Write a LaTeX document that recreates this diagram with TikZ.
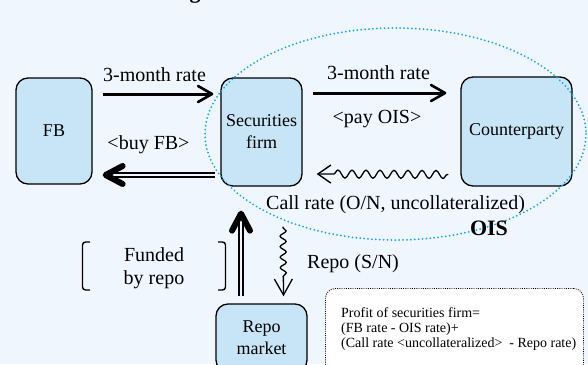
\documentclass[tikz,border=0pt]{standalone}
\usepackage{fontspec}
\setmainfont{Liberation Serif}
\usetikzlibrary{arrows.meta,decorations.pathmorphing,calc}
\definecolor{bgc}{HTML}{EFF6FD}
\definecolor{boxc}{HTML}{C8E5F8}
\definecolor{oisc}{HTML}{1AA3E6}
\tikzset{
  box/.style={draw=black, line width=1.3pt, fill=boxc, rounded corners=12pt, align=center, inner sep=0pt, font=\fontsize{18}{22}\selectfont},
  lbl/.style={font=\fontsize{20}{23}\selectfont, inner sep=0pt, anchor=base},
  thickarr/.style={line width=3pt, -{Straight Barb[length=14pt,width=16pt,line width=2.6pt,round]}},
  dbl/.style={line width=2pt, double=bgc, double distance=2.2pt},
  wavy/.style={line width=1.3pt, decorate, decoration={snake, amplitude=4pt, segment length=14pt, pre length=1pt, post length=15pt}},
  wavyv/.style={line width=1.3pt, decorate, decoration={snake, amplitude=3pt, segment length=10.5pt, pre length=1pt, post length=16pt}},
  brk/.style={line width=1.4pt, rounded corners=3pt},
  profit/.style={draw=black, line width=0.9pt, dash pattern=on 0.9pt off 1.3pt, fill=white, rounded corners=10pt, inner sep=0pt},
  oisline/.style={draw=oisc, line width=2pt, line cap=round, dash pattern=on 0pt off 3.9pt},
  chev/.pic={\draw[line width=6pt,line cap=round,line join=round] (-17,-9) -- (0,0) -- (-17,9);}
}
\begin{document}
\begin{tikzpicture}[x=1pt,y=-1pt]
\useasboundingbox (0,0) rectangle (588,364);
\clip (0,0) rectangle (588,364);
\fill[bgc] (0,0) rectangle (588,364);

% cut-off title fragment
\node[font=\bfseries\fontsize{22}{26}\selectfont, anchor=base, inner sep=0pt] (title) at (195,-1.5) {g};

% boxes
\node[box, minimum width=76pt, minimum height=106pt] (fb) at (54,131) {FB};
\node[box, minimum width=81pt, minimum height=108pt] (sf) at (261.5,132) {Securities\\firm};
\node[box, minimum width=111pt, minimum height=109pt] (cp) at (516.5,131.5) {Counterparty};
\node[box, minimum width=91pt, minimum height=68pt] (rm) at (261.5,338) {Repo\\market};

% profit box
\node[profit, minimum width=258pt, minimum height=100pt, anchor=north west] (pb) at (325,288) {};
\node[align=left, inner sep=0pt, anchor=north west, font=\fontsize{14}{15}\selectfont] (pbt) at ($(pb.north west)+(16,19.5)$)
  {Profit of securities firm=\\(FB rate - OIS rate)+\\(Call rate <uncollateralized>\ \ - Repo rate)};

% OIS ellipse
\draw[oisline] (395.5,134) ellipse [x radius=190.5, y radius=106];

% top arrows
\draw[thickarr] ($(fb.east)+(10,-37)$) -- ($(sf.west)+(-7,-38)$);
\draw[thickarr] ($(sf.east)+(10,-39)$) -- ($(cp.west)+(-14,-38.5)$);

% buy FB double arrow
\draw[dbl] ($(sf.west)+(-5,43)$) -- ($(fb.east)+(16,44)$);
\pic[rotate=180] at ($(fb.east)+(13,44)$) {chev};

% wavy call rate arrow
\draw[wavy, -{Straight Barb[length=13pt,width=18pt,line width=1.4pt]}] ($(cp.west)+(-12,43)$) -- ($(sf.east)+(14,42)$);

% funded by repo double arrow
\draw[dbl] ($(rm.north)+(-20.5,-7)$) -- ($(sf.south)+(-20.5,30)$);
\pic[rotate=90] at ($(sf.south)+(-20.5,27)$) {chev};

% repo wavy arrow
\draw[wavyv, -{Straight Barb[length=16pt,width=18pt,line width=1.3pt]}] ($(sf.south)+(21.5,40)$) -- ($(rm.north)+(22,-7)$);

% labels
\node[lbl] (l1) at (154.5,81) {3-month rate};
\node[lbl] (l2) at (148.5,149) {<buy FB>};
\node[lbl] (l3) at (378.5,79) {3-month rate};
\node[lbl] (l4) at (377,123) {<pay OIS>};
\node[lbl, anchor=base west] (l5) at (266,209) {Call rate (O/N, uncollateralized)};
\node[lbl, font=\bfseries\fontsize{22}{26}\selectfont] (l6) at (489,235) {OIS};
\node[lbl, anchor=base west] (l7) at (307,268) {Repo (S/N)};
\node[lbl] (f1) at (154,261) {Funded};
\node[lbl] (f2) at (154,284) {by repo};

% brackets
\draw[brk] (90,242) -- (82.5,242) -- (82.5,290) -- (90,290);
\draw[brk] (218,242) -- (225.5,242) -- (225.5,290) -- (218,290);
\end{tikzpicture}
\end{document}
